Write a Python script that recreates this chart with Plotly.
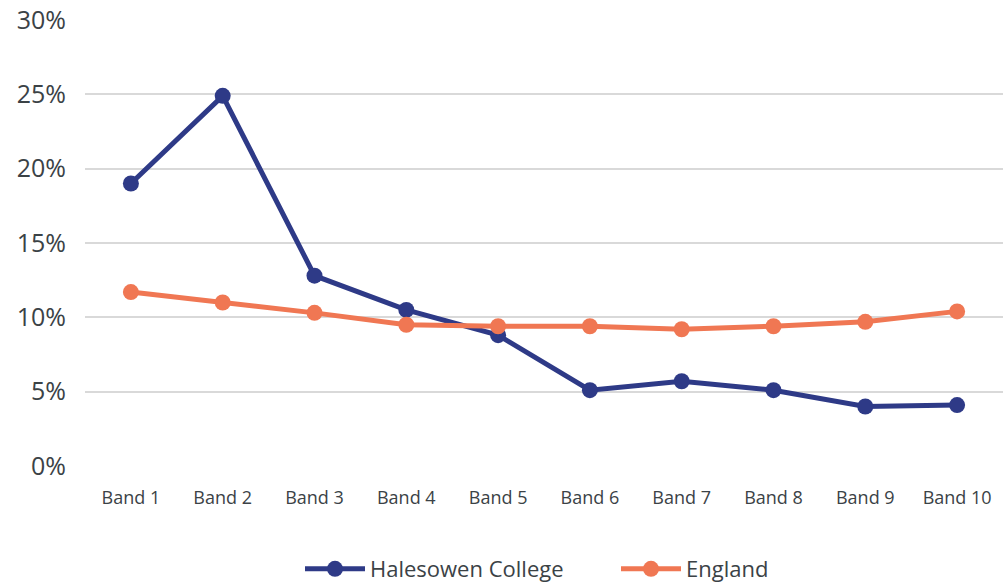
import plotly.graph_objects as go

categories = ["Band 1", "Band 2", "Band 3", "Band 4", "Band 5", "Band 6", "Band 7", "Band 8", "Band 9", "Band 10"]
halesowen = [19.0, 24.9, 12.8, 10.5, 8.8, 5.1, 5.7, 5.1, 4.0, 4.1]
england = [11.7, 11.0, 10.3, 9.5, 9.4, 9.4, 9.2, 9.4, 9.7, 10.4]
y_ticks = [0, 5, 10, 15, 20, 25, 30]
y_tick_labels = ["0%", "5%", "10%", "15%", "20%", "25%", "30%"]

FONT = "Open Sans"
TXT = "#3b4246"

fig = go.Figure()
fig.add_trace(go.Scatter(
    x=categories, y=halesowen, name="Halesowen College", mode="lines+markers",
    line=dict(color="#2e3a87", width=5), marker=dict(size=16, color="#2e3a87"),
))
fig.add_trace(go.Scatter(
    x=categories, y=england, name="England", mode="lines+markers",
    line=dict(color="#f07753", width=5), marker=dict(size=16, color="#f07753"),
))

fig.update_layout(
    width=1003, height=582,
    margin=dict(l=85, r=0, t=20, b=116, autoexpand=False),
    paper_bgcolor="white", plot_bgcolor="white",
    font=dict(family=FONT, color=TXT),
    showlegend=True,
    legend=dict(orientation="h", x=(300 - 85) / 918, xanchor="left", y=-0.184, yanchor="top",
                font=dict(size=22, color=TXT, family=FONT), itemwidth=60,
                entrywidth=241, entrywidthmode="pixels",
                traceorder="normal"),
    xaxis=dict(type="category", range=[-0.5, 9.5], showgrid=False, zeroline=False,
               showline=False, ticks="", tickfont=dict(size=18, color=TXT), ticklabelstandoff=19),
    yaxis=dict(range=[0, 30], tickvals=y_ticks, ticktext=y_tick_labels,
               showgrid=True, gridcolor="#d9d9d9", gridwidth=2, zeroline=False,
               showline=False, ticks="", tickfont=dict(size=25, color=TXT), ticklabelstandoff=18),
)

fig.write_html("out.html")
